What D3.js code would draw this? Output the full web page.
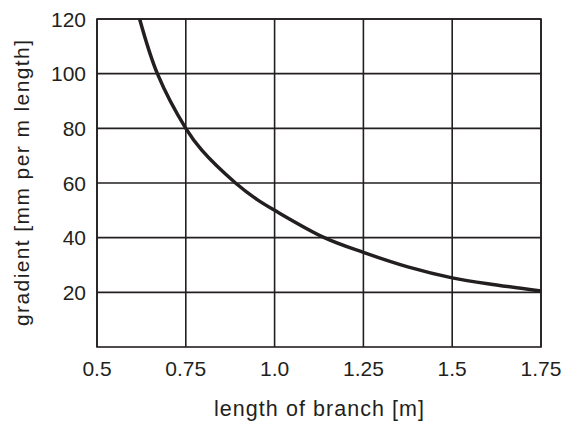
<!DOCTYPE html>
<html>
<head>
<meta charset="utf-8">
<script src="https://cdn.jsdelivr.net/npm/d3@7"></script>
<style>
  body { margin: 0; background: #fff; }
  text { font-family: "Liberation Sans", Arial, sans-serif; fill: #231f20; }
</style>
</head>
<body>
<div class="graph"></div>
<script>
const w = 564;
const h = 423;
const margin = {top: 19, right: 23, bottom: 76, left: 97};

// values
const lengths   = [0.62, 0.67, 0.75, 0.795, 0.89, 0.95, 1.0, 1.14, 1.25, 1.375, 1.5, 1.625, 1.75];
const gradients = [120, 100, 80, 72, 60, 54, 50, 40, 34.6, 29.3, 25.3, 22.7, 20.5];
const xTicks = [0.5, 0.75, 1.0, 1.25, 1.5, 1.75];
const xTickLabels = ["0.5", "0.75", "1.0", "1.25", "1.5", "1.75"];
const yTicks = [20, 40, 60, 80, 100, 120];

const canvas = d3.select('.graph')
  .append("svg")
  .attr("width", w)
  .attr("height", h);

const xScale = d3.scaleLinear()
  .domain([0.5, 1.75])
  .range([margin.left, w - margin.right]);

const yScale = d3.scaleLinear()
  .domain([0, 120])
  .range([h - margin.bottom, margin.top]);

const ink = "#231f20";

// grid
canvas.append("g")
  .selectAll("line")
  .data(xTicks)
  .enter().append("line")
  .attr("x1", d => xScale(d))
  .attr("x2", d => xScale(d))
  .attr("y1", yScale(0))
  .attr("y2", yScale(120))
  .attr("stroke", ink)
  .attr("stroke-width", 1.6);

canvas.append("g")
  .selectAll("line")
  .data(yTicks)
  .enter().append("line")
  .attr("x1", xScale(0.5))
  .attr("x2", xScale(1.75))
  .attr("y1", d => yScale(d))
  .attr("y2", d => yScale(d))
  .attr("stroke", ink)
  .attr("stroke-width", 1.6);

canvas.append("rect")
  .attr("x", xScale(0.5))
  .attr("y", yScale(120))
  .attr("width", xScale(1.75) - xScale(0.5))
  .attr("height", yScale(0) - yScale(120))
  .attr("fill", "none")
  .attr("stroke", ink)
  .attr("stroke-width", 1.6);

// tick labels
canvas.append("g")
  .selectAll("text")
  .data(xTicks)
  .enter().append("text")
  .attr("x", d => xScale(d))
  .attr("y", yScale(0) + 29)
  .attr("text-anchor", "middle")
  .style("font-size", "21px")
  .text((d, i) => xTickLabels[i]);

canvas.append("g")
  .selectAll("text")
  .data(yTicks)
  .enter().append("text")
  .attr("x", margin.left - 11)
  .attr("y", d => yScale(d))
  .attr("dy", "0.36em")
  .attr("text-anchor", "end")
  .style("font-size", "21px")
  .text(d => d);

// axis titles
canvas.append("text")
  .attr("x", (xScale(0.5) + xScale(1.75)) / 2)
  .attr("y", h - 7)
  .attr("text-anchor", "middle")
  .attr("textLength", 210)
  .attr("lengthAdjust", "spacing")
  .style("font-size", "21.5px")
  .text("length of branch [m]");

canvas.append("text")
  .attr("transform", "rotate(-90)")
  .attr("x", -(yScale(0) + yScale(120)) / 2)
  .attr("y", 29)
  .attr("text-anchor", "middle")
  .attr("textLength", 286)
  .attr("lengthAdjust", "spacing")
  .style("font-size", "21px")
  .text("gradient [mm per m length]");

// curve
const line = d3.line()
  .x((d, i) => xScale(lengths[i]))
  .y((d, i) => yScale(gradients[i]))
  .curve(d3.curveCatmullRom.alpha(0.5));

canvas.append("path")
  .datum(gradients)
  .attr("d", line)
  .attr("fill", "none")
  .attr("stroke", ink)
  .attr("stroke-width", 3.5);
</script>
</body>
</html>
